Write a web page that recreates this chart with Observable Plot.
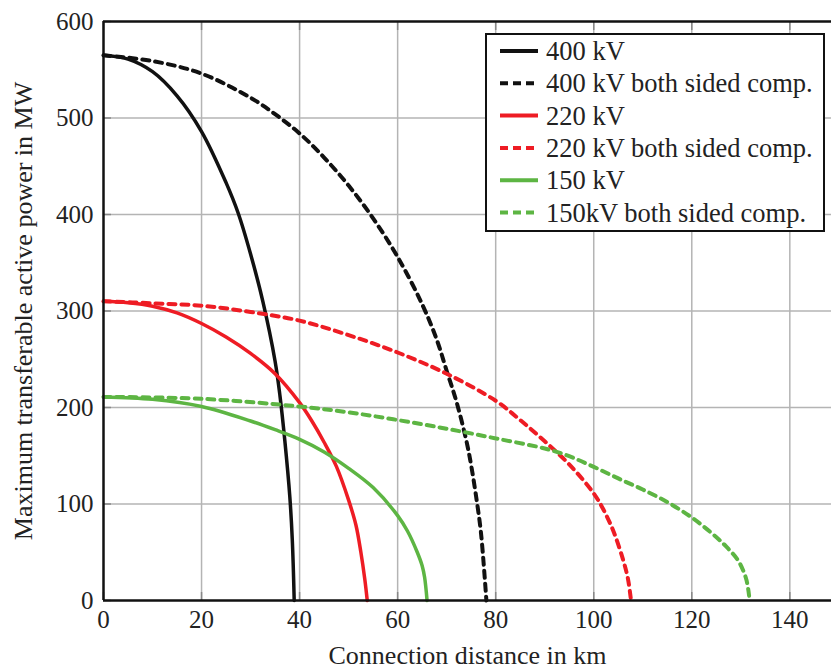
<!DOCTYPE html>
<html>
<head>
<meta charset="utf-8">
<script src="https://cdn.jsdelivr.net/npm/d3@7"></script>
<script src="https://cdn.jsdelivr.net/npm/@observablehq/plot@0.6"></script>
<style>
  html, body { margin: 0; padding: 0; background: #fff; }
  #wrap { position: relative; width: 831px; height: 672px; overflow: hidden; }
  #legend { position: absolute; left: 485px; top: 33px; width: 336px; height: 195px;
            border: 2px solid #111; background: #fff; box-sizing: content-box; }
</style>
</head>
<body>
<div id="wrap"></div>
<script>
// ---- data (km, MW) ----
const kv400 = [[0,565],[5,561],[10,548],[15,523],[20,486],[25,433],[27.5,401],[30,359],[32.5,310],[35,248],[36,212],[37,165],[38,108],[38.5,64],[38.9,0]];
const kv400comp = [[0,565],[10,559],[20,546],[30,521],[35,504],[40,484],[45,459],[50,430],[55,396],[60,356],[65,307],[68,270],[70,238],[72,206],[74,166],[75,140],[76,108],[77,70],[78.1,0]];
const kv220 = [[0,310],[5,308.5],[10,305],[15,298],[20,287],[25,273],[30,256],[35,235],[40,205],[42.5,186],[45,164],[47.5,139],[50,104],[51.5,78],[52.5,50],[53.3,22],[53.8,0]];
const kv220comp = [[0,310],[10,308],[20,305.5],[30,299],[40,290],[50,275],[60,257],[70,235],[80,207],[85,187],[90,165],[95,141],[100,111],[102,94],[104,72],[106,42],[107,22],[107.6,0]];
const kv150 = [[0,211],[10,208.5],[20,201],[30,186],[35,177],[40,167],[45,154],[50,137],[55,117],[60,88],[62,72],[64,50],[65,36],[65.5,24],[66,0]];
const kv150comp = [[0,211],[20,209],[40,201],[50,195],[60,187],[70,178],[80,168],[90,157.5],[95,149.5],[100,138.5],[105,126.5],[110,115],[115,102],[120,86],[124,70],[127,56],[129.5,41],[131,24],[131.5,12],[131.8,0]];

const seriesNames = ["400 kV","400 kV both sided comp.","220 kV","220 kV both sided comp.","150 kV","150kV both sided comp."];
const seriesData = [kv400, kv400comp, kv220, kv220comp, kv150, kv150comp];
const seriesColors = ["#111111","#111111","#ee1c24","#ee1c24","#5db543","#5db543"];
const seriesDashed = [false, true, false, true, false, true];

const xTicks = [0,20,40,60,80,100,120,140];
const yTicks = [0,100,200,300,400,500,600];
const xLabel = "Connection distance in km";
const yLabel = "Maximum transferable active power in MW";

const FONT = "'Liberation Serif', 'Times New Roman', serif";

const lineMarks = seriesData.map((pts, i) => Plot.line(pts, {
  x: d => d[0], y: d => d[1],
  stroke: seriesColors[i],
  strokeWidth: seriesDashed[i] ? 4 : 3.5,
  strokeDasharray: seriesDashed[i] ? "7,6" : null,
  strokeLinejoin: "round",
  curve: "catmull-rom"
}));

const chart = Plot.plot({
  width: 831,
  height: 672,
  marginLeft: 103,
  marginTop: 21,
  marginBottom: 72,
  marginRight: 0,
  style: {fontFamily: FONT, background: "#fff", color: "#222"},
  x: {domain: [0, 148.5]},
  y: {domain: [0, 600]},
  marks: [
    Plot.gridX(xTicks.filter(d => d > 0), {stroke: "#b4b4b4", strokeOpacity: 1, strokeWidth: 1.5}),
    Plot.gridY(yTicks.filter(d => d > 0 && d < 600), {stroke: "#b4b4b4", strokeOpacity: 1, strokeWidth: 1.5}),
    Plot.axisX({ticks: xTicks, tickSize: -8, tickFormat: () => "", stroke: "#888", strokeWidth: 1.5, label: null}),
    Plot.axisX({ticks: xTicks, anchor: "top", tickSize: -8, tickFormat: () => "", stroke: "#888", strokeWidth: 1.5, label: null}),
    Plot.axisY({ticks: yTicks, tickSize: -8, tickFormat: () => "", stroke: "#888", strokeWidth: 1.5, label: null}),
    Plot.axisX({ticks: xTicks, tickSize: 0, tickPadding: 10, fontSize: 25, fill: "#222",
      label: xLabel, labelAnchor: "center", labelArrow: "none", labelOffset: 63}),
    Plot.axisY({ticks: yTicks, tickSize: 0, tickPadding: 10, fontSize: 25, fill: "#222",
      label: yLabel, labelAnchor: "center", labelArrow: "none", labelOffset: 90}),
    ...lineMarks,
    Plot.ruleX([0], {stroke: "#111", strokeWidth: 2.5}),
    Plot.ruleY([0, 600], {stroke: "#111", strokeWidth: 2.5})
  ]
});

d3.select(chart).selectAll("text").style("font-family", FONT);
d3.select(chart).selectAll("[aria-label='x-axis label'] text, [aria-label='y-axis label'] text").style("font-size", "26px");

const wrap = document.getElementById("wrap");
wrap.appendChild(chart);

// legend overlay
const legend = d3.select(wrap).append("div").attr("id", "legend");
const lsvg = legend.append("svg").attr("width", 336).attr("height", 195);
seriesNames.forEach((name, i) => {
  const cy = 16 + i * 32.3;
  lsvg.append("line")
    .attr("x1", 13).attr("x2", 51).attr("y1", cy).attr("y2", cy)
    .attr("stroke", seriesColors[i]).attr("stroke-width", 4)
    .attr("stroke-dasharray", seriesDashed[i] ? "8,5" : null);
  lsvg.append("text")
    .attr("x", 59).attr("y", cy).attr("dy", "0.34em")
    .attr("font-family", FONT).attr("font-size", 26.5).attr("fill", "#222")
    .text(name);
});
</script>
</body>
</html>
